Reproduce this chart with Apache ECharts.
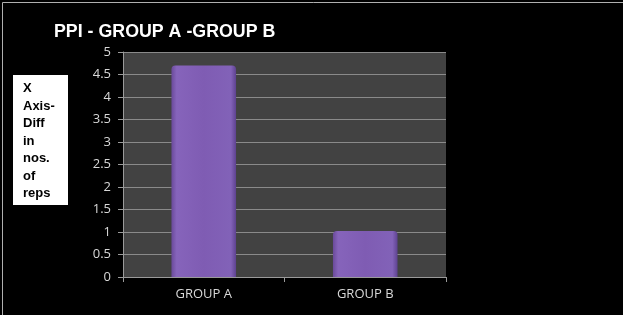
<!DOCTYPE html>
<html><head><meta charset="utf-8">
<script src="https://cdn.jsdelivr.net/npm/echarts@6/dist/echarts.min.js"></script>
<style>html,body{margin:0;padding:0;background:#000}#c{width:623px;height:315px}</style>
</head><body><div id="c"></div>
<script>
const categories = ['GROUP A', 'GROUP B'];
const values = [4.7, 1.02];
const titleText = 'PPI - GROUP A -GROUP B';
const yLabelLines = ['X', 'Axis-', 'Diff', 'in', 'nos.', 'of', 'reps'];

const chart = echarts.init(document.getElementById('c'), null, {renderer: 'canvas'});
chart.setOption({
  backgroundColor: '#000',
  animation: false,
  title: {
    text: titleText, left: 49, top: 18,
    textStyle: {color: '#fff', fontFamily: 'Arial, Liberation Sans', fontWeight: 'bold', fontSize: 17.8}
  },
  grid: {left: 123, right: 177, top: 52, bottom: 38, show: true, backgroundColor: '#424242', borderWidth: 0},
  xAxis: {
    type: 'category', data: categories,
    axisLine: {lineStyle: {color: '#9a9a9a'}},
    axisTick: {show: true, length: 5, lineStyle: {color: '#9a9a9a'}},
    axisLabel: {color: '#d8d8d8', fontFamily: 'Open Sans, Noto Sans', fontSize: 13, margin: 11}
  },
  yAxis: {
    type: 'value', min: 0, max: 5, interval: 0.5,
    axisLine: {show: true, lineStyle: {color: '#9a9a9a'}},
    axisTick: {show: true, length: 5, lineStyle: {color: '#9a9a9a'}},
    axisLabel: {color: '#d8d8d8', fontFamily: 'Open Sans, Noto Sans', fontSize: 13, margin: 12},
    splitLine: {lineStyle: {color: '#8a8a8a', width: 1}}
  },
  series: [{
    type: 'bar', data: values, barWidth: '40%',
    itemStyle: {
      borderRadius: [4, 4, 0, 0],
      color: new echarts.graphic.LinearGradient(0, 0, 1, 0, [
        {offset: 0, color: '#6a4a9a'},
        {offset: 0.08, color: '#8664bb'},
        {offset: 0.5, color: '#7f5cb3'},
        {offset: 0.92, color: '#8262b8'},
        {offset: 1, color: '#5e4290'}
      ]),
      borderColor: '#a48ad0', borderWidth: 0
    }
  }],
  graphic: [
    {type: 'rect', left: 0, top: 0, shape: {width: 622, height: 314}, style: {fill: 'none', stroke: '#b0b0b0', lineWidth: 1}, silent: true},
    {type: 'rect', left: 13, top: 75, shape: {width: 55, height: 130}, style: {fill: '#fff'}},
    {type: 'text', left: 23, top: 80, style: {text: yLabelLines.join('\n'), fill: '#000', font: 'bold 13px Arial, Liberation Sans', lineHeight: 17.5}}
  ]
});
</script></body></html>
